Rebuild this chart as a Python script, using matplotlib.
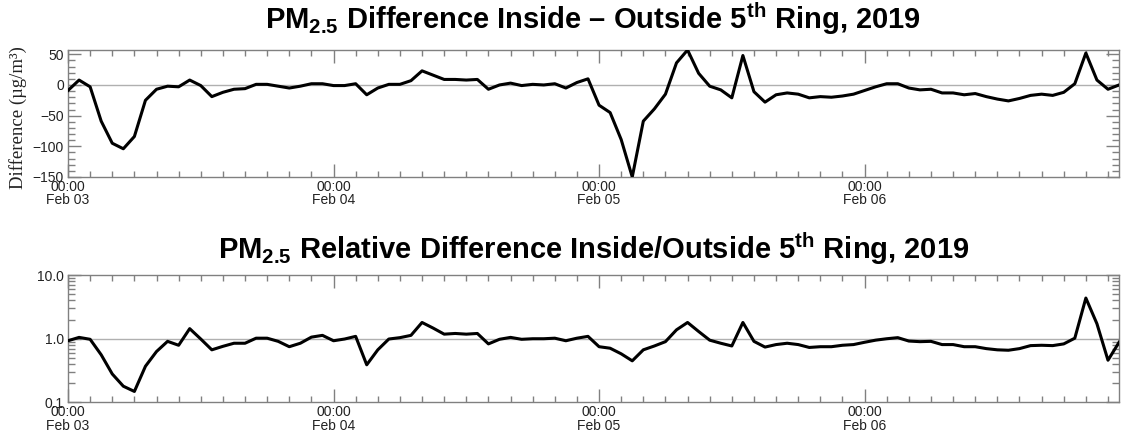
#! -*- coding: utf-8 -*-

#---------------------------------
# モジュールのインポート
#---------------------------------
import numpy as np
import pandas as pd
import matplotlib
matplotlib.use('Agg')
import matplotlib.pyplot as plt
import matplotlib.dates as mdates
from matplotlib.ticker import FixedLocator, FormatStrFormatter, LogLocator, MultipleLocator, NullFormatter

#---------------------------------
# データ（1時間値, 2019/02/03 00:00 - 02/06 23:00）
#---------------------------------
start_time = '2019-02-03 00:00'

# 5環内外の PM2.5 差 (µg/m³)
diff_values = [
	-9, 8, -3, -59, -95, -104, -84, -25, -7, -2, -3, 8,
	-1, -19, -12, -7, -6, 1, 1, -2, -5, -2, 2, 2,
	-1, -1, 2, -16, -5, 1, 1, 7, 23, 16, 9, 9,
	8, 9, -7, 0, 3, -1, 1, 0, 2, -5, 4, 10,
	-33, -45, -89, -150, -59, -39, -15, 36, 57, 19, -2, -8,
	-21, 48, -11, -28, -16, -13, -15, -21, -19, -20, -18, -15,
	-9, -3, 2, 2, -5, -8, -7, -13, -13, -16, -14, -19,
	-23, -26, -22, -17, -15, -17, -12, 2, 52, 8, -7, 0,
]

# 5環内外の PM2.5 比
ratio_values = [
	0.93, 1.05, 0.98, 0.56, 0.28, 0.18, 0.149, 0.37, 0.63, 0.91, 0.79, 1.44,
	0.99, 0.67, 0.76, 0.85, 0.85, 1.02, 1.02, 0.91, 0.75, 0.85, 1.06, 1.13,
	0.93, 0.99, 1.09, 0.39, 0.67, 0.99, 1.04, 1.13, 1.80, 1.47, 1.18, 1.21,
	1.18, 1.21, 0.83, 0.98, 1.05, 0.98, 1.0, 1.0, 1.02, 0.93, 1.02, 1.09,
	0.75, 0.71, 0.58, 0.45, 0.67, 0.77, 0.90, 1.38, 1.80, 1.30, 0.95, 0.85,
	0.77, 1.80, 0.91, 0.74, 0.81, 0.85, 0.81, 0.73, 0.75, 0.75, 0.79, 0.81,
	0.88, 0.95, 1.0, 1.04, 0.92, 0.90, 0.91, 0.81, 0.81, 0.75, 0.75, 0.70,
	0.67, 0.66, 0.70, 0.78, 0.79, 0.78, 0.83, 1.02, 4.35, 1.72, 0.46, 0.88,
]

diff_yticks = [-150, -100, -50, 0, 50]
ratio_yticks = [0.1, 1.0, 10.0]

title_diff = r'PM$_{\mathbf{2.5}}$ Difference Inside – Outside 5$^{\mathbf{th}}$ Ring, 2019'
title_ratio = r'PM$_{\mathbf{2.5}}$ Relative Difference Inside/Outside 5$^{\mathbf{th}}$ Ring, 2019'
ylabel_diff = 'Difference (µg/m³)'

#---------------------------------
# 定数定義
#---------------------------------
FRAME_COLOR = '#808080'
TEXT_COLOR = '#222222'
REF_COLOR = '#b0b0b0'

#---------------------------------
# 関数
#---------------------------------
def setup_time_axis(ax, times):
	ax.set_xlim(times[0], times[-1])
	ax.xaxis.set_major_locator(mdates.DayLocator())
	ax.xaxis.set_minor_locator(mdates.HourLocator(byhour=range(0, 24, 2)))
	ax.xaxis.set_major_formatter(mdates.DateFormatter('%H:%M\n%b %d'))
	ax.tick_params(axis='x', which='major', direction='in', length=9.5, width=1.0,
			top=True, bottom=True, color=FRAME_COLOR, labelsize=10, labelcolor=TEXT_COLOR, pad=2)
	ax.tick_params(axis='x', which='minor', direction='in', length=4.5, width=1.0,
			top=True, bottom=True, color=FRAME_COLOR)
	for lbl in ax.get_xticklabels():
		lbl.set_linespacing(0.95)
	for sp in ax.spines.values():
		sp.set_color(FRAME_COLOR)
		sp.set_linewidth(1.0)

def main():
	plt.rcParams['font.family'] = ['Liberation Sans', 'DejaVu Sans']
	plt.rcParams['mathtext.fontset'] = 'custom'
	plt.rcParams['mathtext.rm'] = 'Liberation Sans'
	plt.rcParams['mathtext.bf'] = 'Liberation Sans:bold'

	times = pd.date_range(start_time, periods=len(diff_values), freq='h')

	fig = plt.figure(figsize=(11.24, 4.37), dpi=100)
	ax1 = fig.add_axes([0.0605, 0.595, 0.9351, 0.2906])
	ax2 = fig.add_axes([0.0605, 0.079, 0.9351, 0.2917])

	# --- 差 ---
	ax1.axhline(0, color=REF_COLOR, lw=1.0, zorder=1)
	ax1.plot(times, diff_values, color='black', lw=2.2, zorder=3)
	ax1.set_ylim(-150, 57)
	ax1.yaxis.set_major_locator(FixedLocator(diff_yticks))
	ax1.yaxis.set_minor_locator(MultipleLocator(10))
	ax1.tick_params(axis='y', which='major', direction='in', length=9.5, width=1.0,
			left=True, right=True, color=FRAME_COLOR, labelsize=10, labelcolor=TEXT_COLOR, pad=3)
	ax1.tick_params(axis='y', which='minor', direction='in', length=5, width=1.0,
			left=True, right=True, color=FRAME_COLOR)
	setup_time_axis(ax1, times)
	ax1.set_ylabel(ylabel_diff, family=['Liberation Serif', 'DejaVu Serif'], fontsize=13.5, color=TEXT_COLOR)
	ax1.yaxis.set_label_coords(-0.039, 0.47)

	# --- 比 ---
	ax2.axhline(1.0, color=REF_COLOR, lw=1.0, zorder=1)
	ax2.plot(times, ratio_values, color='black', lw=2.2, zorder=3)
	ax2.set_yscale('log')
	ax2.set_ylim(0.1, 10.0)
	ax2.yaxis.set_major_locator(FixedLocator(ratio_yticks))
	ax2.yaxis.set_major_formatter(FormatStrFormatter('%.1f'))
	ax2.yaxis.set_minor_locator(LogLocator(base=10, subs=np.arange(2, 10)))
	ax2.yaxis.set_minor_formatter(NullFormatter())
	ax2.tick_params(axis='y', which='major', direction='in', length=9.5, width=1.0,
			left=True, right=True, color=FRAME_COLOR, labelsize=10, labelcolor=TEXT_COLOR, pad=3)
	ax2.tick_params(axis='y', which='minor', direction='in', length=5, width=1.0,
			left=True, right=True, color=FRAME_COLOR)
	setup_time_axis(ax2, times)

	# --- タイトル ---
	fig.text(0.528, 0.958, title_diff, ha='center', va='center', fontsize=21, fontweight='bold')
	fig.text(0.528, 0.432, title_ratio, ha='center', va='center', fontsize=21, fontweight='bold')

	fig.savefig('out.png', dpi=100)
	plt.close(fig)

	return

#---------------------------------
# メイン処理
#---------------------------------
if __name__ == '__main__':
	main()
